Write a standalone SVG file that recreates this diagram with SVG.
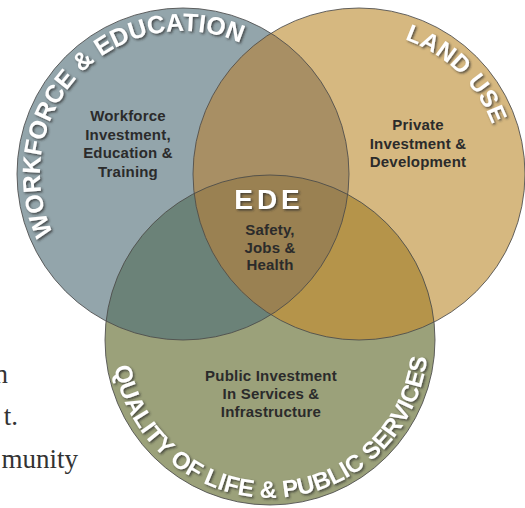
<svg xmlns="http://www.w3.org/2000/svg" width="525" height="508" viewBox="0 0 525 508">
  <style>
    .lbl { font-family: "Liberation Sans", Arial, sans-serif; font-weight: bold; font-size: 15px; fill: #2b2b2b; text-anchor: middle; letter-spacing: 0.2px; }
    .arc { font-family: "Liberation Sans", Arial, sans-serif; font-weight: bold; fill: #ffffff; }
    .edge { fill: none; stroke: #4a4a4a; stroke-width: 1; stroke-opacity: 0.85; }
    .serif { font-family: "Liberation Serif", "Times New Roman", serif; font-size: 27px; fill: #333333; }
  </style>
  <defs>
    <clipPath id="clipL"><circle cx="183" cy="174" r="166"/></clipPath>
    <clipPath id="clipR"><circle cx="359" cy="174" r="166"/></clipPath>
    <clipPath id="clipB"><circle cx="270" cy="340" r="165"/></clipPath>
    <filter id="shadow" x="-20%" y="-20%" width="140%" height="140%">
      <feDropShadow dx="1.5" dy="1.5" stdDeviation="0.8" flood-color="#2a2a2a" flood-opacity="0.75"/>
    </filter>
    <path id="arcL" d="M147.2,312.4 A143,143 0 1 1 320.8,135.8"/>
    <path id="arcR" d="M241.7,94 A142,142 0 1 1 441.9,289.3"/>
    <path id="arcB" d="M113.6,317.3 A158,158 0 1 0 424.7,307.8"/>
  </defs>

  <rect width="525" height="508" fill="#ffffff"/>

  <!-- page text cut off at left -->
  <g id="page-text">
    <text class="serif" x="8" y="383" text-anchor="end">n</text>
    <text class="serif" x="18" y="425" text-anchor="end">t.</text>
    <text class="serif" x="78" y="468" text-anchor="end">munity</text>
  </g>

  <!-- fills and overlaps -->
  <g id="venn-fills">
    <circle cx="183" cy="174" r="166" fill="#93a5ab"/>
    <circle cx="359" cy="174" r="166" fill="#d6b880"/>
    <circle cx="270" cy="340" r="165" fill="#9ba17a"/>
    <g clip-path="url(#clipL)">
      <circle cx="359" cy="174" r="166" fill="#a88f64"/>
      <circle cx="270" cy="340" r="165" fill="#6b8278"/>
    </g>
    <g clip-path="url(#clipR)">
      <circle cx="270" cy="340" r="165" fill="#b5944a"/>
      <g clip-path="url(#clipL)">
        <circle cx="270" cy="340" r="165" fill="#9a8152"/>
      </g>
    </g>
  </g>

  <g id="outlines">
    <circle class="edge" cx="183" cy="174" r="166"/>
    <circle class="edge" cx="359" cy="174" r="166"/>
    <circle class="edge" cx="270" cy="340" r="165"/>
  </g>

  <g id="node-workforce">
    <text class="arc" font-size="25" filter="url(#shadow)"><textPath href="#arcL" startOffset="50%" text-anchor="middle">WORKFORCE &amp; EDUCATION</textPath></text>
    <text class="lbl" x="128" y="121">Workforce</text>
    <text class="lbl" x="128" y="139.5">Investment,</text>
    <text class="lbl" x="128" y="158">Education &amp;</text>
    <text class="lbl" x="128" y="176.5">Training</text>
  </g>

  <g id="node-landuse">
    <text class="arc" font-size="24" letter-spacing="0.5" filter="url(#shadow)"><textPath href="#arcR" startOffset="50%" text-anchor="middle">LAND USE</textPath></text>
    <text class="lbl" x="418" y="130">Private</text>
    <text class="lbl" x="418" y="148.5">Investment &amp;</text>
    <text class="lbl" x="418" y="167">Development</text>
  </g>

  <g id="node-quality">
    <text class="arc" font-size="24" filter="url(#shadow)"><textPath href="#arcB" startOffset="50%" text-anchor="middle">QUALITY OF LIFE &amp; PUBLIC SERVICES</textPath></text>
    <text class="lbl" x="271" y="381">Public Investment</text>
    <text class="lbl" x="271" y="399">In Services &amp;</text>
    <text class="lbl" x="271" y="417">Infrastructure</text>
  </g>

  <g id="node-ede">
    <text x="269" y="209" text-anchor="middle" font-family="Liberation Sans, Arial, sans-serif" font-weight="bold" font-size="28" letter-spacing="4" fill="#ffffff" filter="url(#shadow)">EDE</text>
    <text class="lbl" x="270" y="235">Safety,</text>
    <text class="lbl" x="270" y="252.5">Jobs &amp;</text>
    <text class="lbl" x="270" y="270">Health</text>
  </g>
</svg>
